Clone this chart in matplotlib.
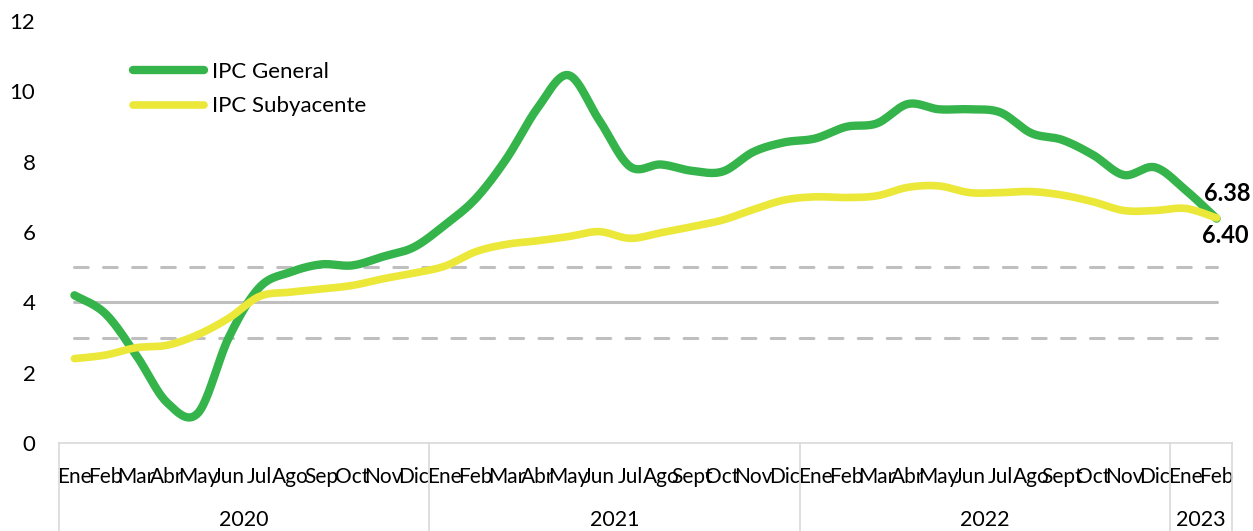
"""IPC General vs IPC Subyacente, variación interanual 2020-2023."""

import matplotlib
matplotlib.use("Agg")
import matplotlib.pyplot as plt
import matplotlib.transforms as mtransforms
import numpy as np

# ---- data ----
months_2020 = ["Ene", "Feb", "Mar", "Abr", "May", "Jun", "Jul", "Ago", "Sep", "Oct", "Nov", "Dic"]
months_2021 = ["Ene", "Feb", "Mar", "Abr", "May", "Jun", "Jul", "Ago", "Sept", "Oct", "Nov", "Dic"]
months_2022 = ["Ene", "Feb", "Mar", "Abr", "May", "Jun", "Jul", "Ago", "Sept", "Oct", "Nov", "Dic"]
months_2023 = ["Ene", "Feb"]
years = ["2020", "2021", "2022", "2023"]

ipc_general = [4.20, 3.68, 2.50, 1.15, 0.85, 3.00, 4.43, 4.86, 5.08, 5.05, 5.30, 5.57,
               6.20, 6.95, 8.09, 9.52, 10.46, 9.18, 7.86, 7.92, 7.74, 7.72, 8.28, 8.55,
               8.66, 8.99, 9.09, 9.64, 9.49, 9.49, 9.40, 8.81, 8.62, 8.19, 7.62, 7.84,
               7.19, 6.38]
ipc_subyacente = [2.40, 2.50, 2.71, 2.78, 3.08, 3.55, 4.17, 4.29, 4.38, 4.48, 4.67, 4.83,
                  5.03, 5.44, 5.65, 5.75, 5.87, 6.01, 5.82, 5.98, 6.15, 6.34, 6.64, 6.91,
                  7.00, 6.98, 7.03, 7.27, 7.31, 7.12, 7.12, 7.15, 7.05, 6.86, 6.61, 6.61,
                  6.67, 6.40]
meta = 4.0
rango_sup = 5.0
rango_inf = 3.0

GREEN = "#34B44A"
YELLOW = "#EBE83A"
GRAY = "#BFBFBF"
FONT = "Lato"


def smooth(y, n=24):
    """Excel-like smoothed line (Catmull-Rom as cubic Bezier) through the points."""
    y = np.asarray(y, dtype=float)
    x = np.arange(len(y), dtype=float)
    pts = np.column_stack([x, y])
    ext = np.vstack([pts[0], pts, pts[-1]])
    t = np.linspace(0, 1, n, endpoint=False)[:, None]
    out = []
    for i in range(len(pts) - 1):
        p0, p1, p2, p3 = ext[i], ext[i + 1], ext[i + 2], ext[i + 3]
        b1 = p1 + (p2 - p0) / 6
        b2 = p2 - (p3 - p1) / 6
        seg = ((1 - t) ** 3) * p1 + 3 * ((1 - t) ** 2) * t * b1 + 3 * (1 - t) * t ** 2 * b2 + t ** 3 * p2
        out.append(seg)
    out.append(pts[-1][None, :])
    out = np.vstack(out)
    return out[:, 0], out[:, 1]


plt.rcParams["font.family"] = [FONT, "DejaVu Sans"]

labels = months_2020 + months_2021 + months_2022 + months_2023
n = len(labels)
x = np.arange(n)

fig = plt.figure(figsize=(12.53, 5.31), dpi=100)
ax = fig.add_axes([59 / 1253, 88 / 531, (1232 - 59) / 1253, (443 - 21) / 531])

# reference band
ax.plot(x, [meta] * n, color=GRAY, lw=2.2, solid_capstyle="round", zorder=1)
for v in (rango_sup, rango_inf):
    ax.plot(x, [v] * n, color=GRAY, lw=2.2, dashes=(4.5, 5), dash_capstyle="round", zorder=1)

xs, ys = smooth(ipc_general)
ax.plot(xs, ys, color=GREEN, lw=6, solid_capstyle="round", label="IPC General", zorder=3)
xs, ys = smooth(ipc_subyacente)
ax.plot(xs, ys, color=YELLOW, lw=5.5, solid_capstyle="round", label="IPC Subyacente", zorder=4)

ax.annotate(f"{ipc_general[-1]:.2f}", (x[-1], ipc_general[-1]), xytext=(8, 18),
            textcoords="offset points", ha="center", va="center",
            fontsize=17, fontweight="bold", color="black")
ax.annotate(f"{ipc_subyacente[-1]:.2f}", (x[-1], ipc_subyacente[-1]), xytext=(6, -13),
            textcoords="offset points", ha="center", va="center",
            fontsize=17, fontweight="bold", color="black")

ax.set_xlim(-0.5, n - 0.5)
ax.set_ylim(0, 12)
ax.set_yticks(range(0, 13, 2))
ax.tick_params(axis="y", length=0, pad=17, labelsize=16, labelcolor="black")
ax.set_xticks(x, labels)
ax.tick_params(axis="x", length=0, pad=17, labelsize=15, labelcolor="black")

for s in ("top", "right", "left"):
    ax.spines[s].set_visible(False)
ax.spines["bottom"].set_color("#D9D9D9")
ax.spines["bottom"].set_linewidth(1.2)

# year groups below the month labels
trans = mtransforms.blended_transform_factory(ax.transData, ax.transAxes)
bottom = -88 / 422
bounds = [-0.5, 11.5, 23.5, 35.5, n - 0.5]
for b in bounds:
    ax.plot([b, b], [0, bottom], transform=trans, color="#D9D9D9", lw=1.2, clip_on=False)
for yr, lo, hi in zip(years, bounds[:-1], bounds[1:]):
    ax.text((lo + hi) / 2, -77 / 422, yr, transform=trans, ha="center", va="center",
            fontsize=15.5, color="black")

ax.legend(loc="upper left", bbox_to_anchor=(133 / 1253, 1 - 62 / 531),
          bbox_transform=fig.transFigure, frameon=False, fontsize=16,
          handlelength=3.2, handletextpad=0.35, labelspacing=0.65, borderpad=0,
          borderaxespad=0)

fig.savefig("out.png", dpi=100)
